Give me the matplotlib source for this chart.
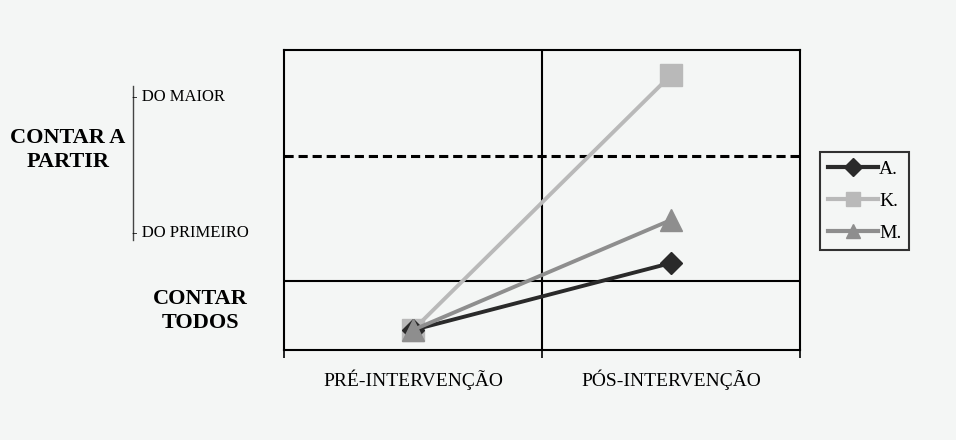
import matplotlib
matplotlib.use("Agg")
import matplotlib.pyplot as plt
from matplotlib.lines import Line2D

categories = ["PRÉ-INTERVENÇÃO", "PÓS-INTERVENÇÃO"]
series_names = ["A.", "K.", "M."]
values_A = [0.4, 1.74]
values_K = [0.4, 5.5]
values_M = [0.4, 2.6]
solid_level = 1.38
dashed_level = 3.88

bg = "#f4f6f5"
plt.rcParams['font.family'] = ['Liberation Serif', 'DejaVu Serif']

fig = plt.figure(figsize=(9.56, 4.4), dpi=100, facecolor=bg)
ax = fig.add_axes([284/956, 90/440, 516/956, 300/440])
ax.set_facecolor(bg)

xs = [0.5, 1.5]
colors = {"A.": "#2a2a2a", "K.": "#b9b9b9", "M.": "#8e8e8e"}
ax.plot(xs, values_K, color=colors["K."], lw=2.8, marker='s', ms=16, zorder=3)
ax.plot(xs, values_M, color=colors["M."], lw=2.8, marker='^', ms=16, zorder=4)
ax.plot(xs, values_A, color=colors["A."], lw=2.8, marker='D', ms=11, zorder=3)
ax.axvline(1.0, color='black', lw=1.5, zorder=2)
ax.axhline(solid_level, color='black', lw=1.5, zorder=2)
ax.axhline(dashed_level, color='black', lw=2.2, ls=(0, (3, 1.6)), zorder=2)

ax.set_xlim(0, 2)
ax.set_ylim(0, 6)
for s in ax.spines.values():
    s.set_linewidth(1.5)
    s.set_color('black')
ax.set_yticks([])
ax.set_xticks([0, 1, 2])
ax.set_xticklabels([])
ax.set_xticks(xs, minor=True)
ax.set_xticklabels(categories, minor=True, fontsize=14)
ax.tick_params(axis='x', which='major', length=6, width=1.2, direction='out')
ax.tick_params(axis='x', which='minor', length=0, pad=14)

# left-side annotations
fig.text(68/956, 1 - 150/440, "CONTAR A\nPARTIR", ha='center', va='center',
         fontsize=16, fontweight='bold', linespacing=1.25)
fig.text(200/956, 1 - 311/440, "CONTAR\nTODOS", ha='center', va='center',
         fontsize=16, fontweight='bold', linespacing=1.25)
fig.text(132/956, 1 - 97/440, "- DO MAIOR", ha='left', va='center', fontsize=12)
fig.text(132/956, 1 - 233/440, "- DO PRIMEIRO", ha='left', va='center', fontsize=12)
fig.add_artist(Line2D([133/956, 133/956], [1 - 86/440, 1 - 240/440],
                      color='#444444', lw=1.0, transform=fig.transFigure))

handles = [
    Line2D([], [], color=colors["A."], lw=3, marker='D', ms=9),
    Line2D([], [], color=colors["K."], lw=3, marker='s', ms=10),
    Line2D([], [], color=colors["M."], lw=3, marker='^', ms=10),
]
leg = fig.legend(handles, series_names, loc='center left',
                 bbox_to_anchor=(820/956, 1 - 201/440), frameon=True,
                 fancybox=False, edgecolor='black', facecolor=bg, fontsize=14,
                 handlelength=2.6, handletextpad=0.05, labelspacing=0.75,
                 borderpad=0.4, borderaxespad=0)
leg.get_frame().set_linewidth(1.5)

fig.savefig("out.png", dpi=100, facecolor=bg)
